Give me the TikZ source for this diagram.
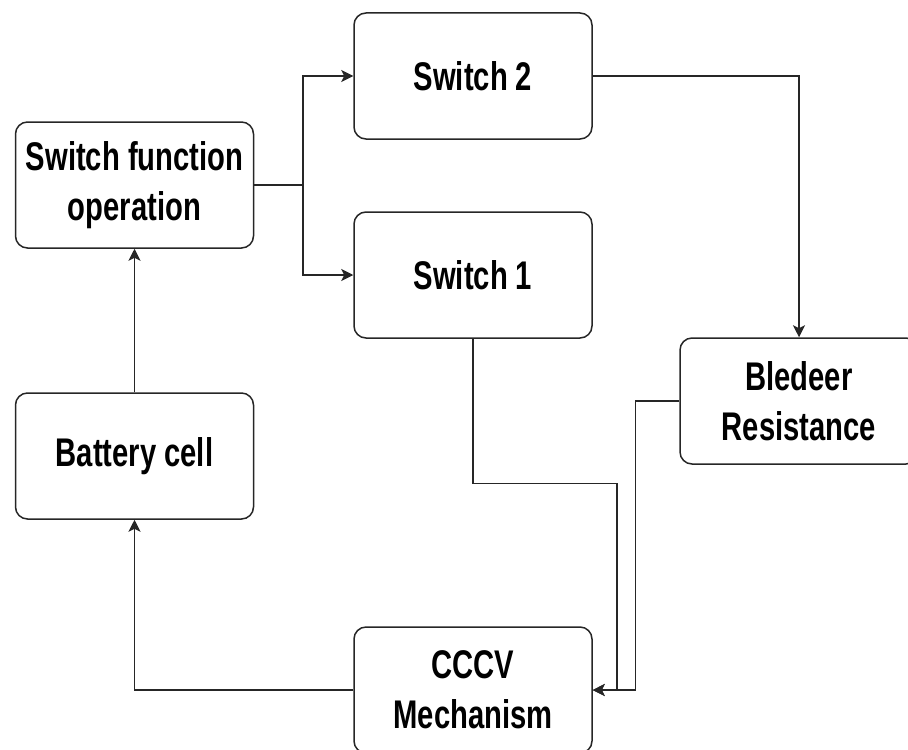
\documentclass[tikz,border=0pt]{standalone}
\usepackage{fontspec}
\setmainfont{Liberation Sans}
\newfontfamily\narrowsans[FakeStretch=0.73]{Liberation Sans}
\usetikzlibrary{arrows.meta}

\begin{document}
\begin{tikzpicture}[
    x=0.5pt, y=-0.5pt,
    font=\narrowsans\bfseries\fontsize{20}{25}\selectfont,
    block/.style={draw=black!85, line width=0.75pt, rounded corners=6pt, align=center,
        minimum width=119pt, minimum height=63pt, inner sep=0pt},
    flow/.style={-{Stealth[length=6pt, width=6pt, inset=1.5pt]}, draw=black!85, line width=0.7pt},
    link/.style={draw=black!85, line width=0.7pt},
]
    \clip (0,0) rectangle (908,749);
    \node[block] (control) at (134.5, 185) {Switch function\\operation};
    \node[block] (switchB) at (473, 76) {Switch 2};
    \node[block] (switchA) at (473, 275) {Switch 1};
    \node[block] (bleeder) at (799, 401) {Bledeer\\Resistance};
    \node[block] (battery) at (134.5, 456) {Battery cell};
    \node[block] (charger) at (473, 690) {CCCV\\Mechanism};
    \coordinate (split) at (303, 185);
    \draw[flow] (battery.north) -- (control.south);
    \draw[link] (control.east) -- (split);
    \draw[flow] (split) |- (switchB.west);
    \draw[flow] (split) |- (switchA.west);
    \draw[flow] (switchB.east) -| (bleeder.north);
    \draw[flow] (switchA.south) -- ++(0, 145) -- ++(144, 0) |- (charger.east);
    \draw[flow] (bleeder.west) -- ++(-44, 0) |- (charger.east);
    \draw[flow] (charger.west) -| (battery.south);
\end{tikzpicture}
\end{document}
